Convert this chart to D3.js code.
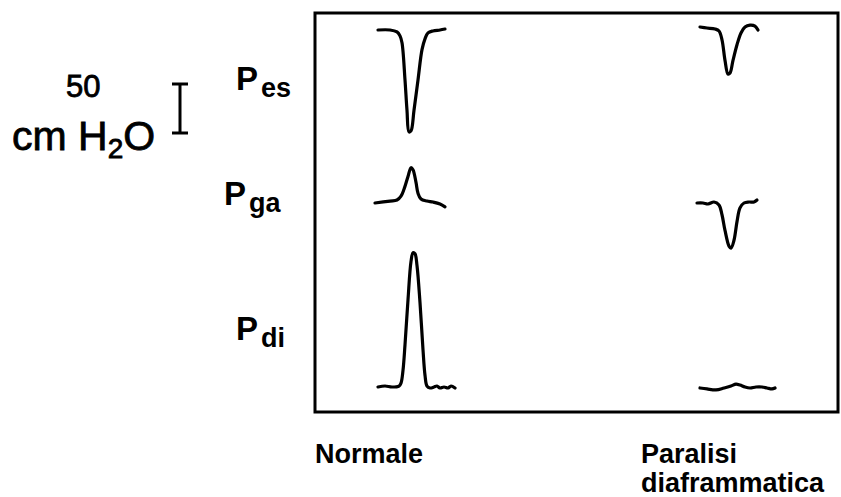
<!DOCTYPE html>
<html>
<head>
<meta charset="utf-8">
<script src="https://cdn.jsdelivr.net/npm/d3@7"></script>
<style>
	body { margin: 0; background: white; }
	text { font-family: "Liberation Sans", Arial, Helvetica, sans-serif; fill: black; }
</style>
</head>
<body>
<svg id="chart" width="841" height="497"></svg>
<script>
	// conditions (columns) and pressure channels (rows)
	const conditions = ["Normale", "Paralisi diaframmatica"];
	const channels = ["es", "ga", "di"];

	// time (a.u.) and pressure (cmH2O, relative to baseline)
	const tPesNormale = [3, 15, 22, 25, 27, 30, 32, 34, 36, 39, 43, 47, 50, 53, 58, 65, 70];
	const pPesNormale = [-1, -1, -3, -7, -14, -52, -83, -105, -104, -83, -52, -21, -10, -4, -2, -1, 0];
	const tPgaNormale = [0, 15, 22, 26, 29, 33, 36, 38, 41, 43, 46, 52, 58, 65, 70];
	const pPgaNormale = [0, 2, 3, 7, 14, 27, 36, 34, 21, 10, 4, 2, 1, -1, -4];
	const tPdiNormale = [3, 10, 17, 24, 26, 28, 30, 33, 36, 38, 40, 42, 45, 48, 50, 52, 55, 59, 62, 65, 69, 73, 76, 80];
	const pPdiNormale = [0, 1, 0, 1, 4, 17, 43, 89, 128, 137, 136, 124, 86, 38, 12, 1, -1, 0, 1, -1, 0, -1, 1, -1];

	const tPesParalisi = [3, 10, 18, 22, 25, 28, 31, 33, 36, 40, 44, 48, 53, 58, 61];
	const pPesParalisi = [2, 1, 0, -2, -11, -32, -46, -45, -32, -16, -4, 2, 4, 3, -1];
	const tPgaParalisi = [0, 6, 11, 17, 22, 25, 28, 32, 34, 37, 40, 43, 47, 52, 57, 60];
	const pPgaParalisi = [0, 0, -1, 1, -2, -12, -28, -44, -46, -38, -19, -5, 0, 1, 1, 3];
	const tPdiParalisi = [3, 10, 19, 27, 34, 39, 43, 48, 53, 59, 65, 70, 75, 78];
	const pPdiParalisi = [-1, -2, -3, -1, 1, 3, 2, 0, -1, 0, 0, -1, -2, -1];

	// calibration bar
	const scaleBarValue = 50;

	window.addEventListener("load", init);

	function init() {
		let svg = d3.select("#chart");

		// layout
		let box = {x: 315, y: 13, w: 523, h: 399};
		let colStart = [375, 697];
		let rowBase = {es: 29, ga: 203, di: 387};
		let pxPerCm = 49 / 50;

		let traces = [
			{col: 0, ch: "es", t: tPesNormale, p: pPesNormale},
			{col: 0, ch: "ga", t: tPgaNormale, p: pPgaNormale},
			{col: 0, ch: "di", t: tPdiNormale, p: pPdiNormale},
			{col: 1, ch: "es", t: tPesParalisi, p: pPesParalisi},
			{col: 1, ch: "ga", t: tPgaParalisi, p: pPgaParalisi},
			{col: 1, ch: "di", t: tPdiParalisi, p: pPdiParalisi}
		];

		// frame
		svg.append("rect")
			.attr("x", box.x)
			.attr("y", box.y)
			.attr("width", box.w)
			.attr("height", box.h)
			.attr("fill", "none")
			.attr("stroke", "black")
			.attr("stroke-width", 3);

		// draw traces
		traces.forEach(function(tr) {
			let x = d3.scaleLinear().domain([0, 80]).range([colStart[tr.col], colStart[tr.col] + 80]);
			let base = rowBase[tr.ch];
			let y = d3.scaleLinear().domain([0, 50]).range([base, base - 50 * pxPerCm]);
			let line = d3.line()
				.x(function(d) { return x(d[0]); })
				.y(function(d) { return y(d[1]); })
				.curve(d3.curveCatmullRom.alpha(0.5));
			svg.append("path")
				.datum(d3.zip(tr.t, tr.p))
				.attr("d", line)
				.attr("fill", "none")
				.attr("stroke", "black")
				.attr("stroke-width", 3.2)
				.attr("stroke-linejoin", "round")
				.attr("stroke-linecap", "round");
		});

		// channel labels P_es, P_ga, P_di
		let labelPos = {es: [236, 90], ga: [224, 205], di: [236, 340]};
		channels.forEach(function(ch) {
			let t = svg.append("text")
				.attr("x", labelPos[ch][0])
				.attr("y", labelPos[ch][1])
				.style("font-weight", "bold")
				.style("font-size", "33px");
			t.append("tspan").text("P");
			t.append("tspan")
				.attr("dx", 3)
				.attr("dy", 7)
				.style("font-size", "27px")
				.text(ch);
		});

		// calibration bar: 50 cm H2O
		let yBar = d3.scaleLinear().domain([0, scaleBarValue]).range([133, 133 - scaleBarValue * pxPerCm]);
		let bar = svg.append("g").attr("stroke", "black").attr("stroke-width", 3);
		bar.append("line").attr("x1", 180).attr("x2", 180).attr("y1", yBar(0)).attr("y2", yBar(scaleBarValue));
		bar.append("line").attr("x1", 172).attr("x2", 188).attr("y1", yBar(0)).attr("y2", yBar(0));
		bar.append("line").attr("x1", 172).attr("x2", 188).attr("y1", yBar(scaleBarValue)).attr("y2", yBar(scaleBarValue));

		// scanned-looking regular text: thin stroke to thicken it a little
		svg.append("text")
			.attr("x", 66)
			.attr("y", 97)
			.style("font-size", "31px")
			.style("stroke", "black")
			.style("stroke-width", 0.8)
			.text(scaleBarValue);

		let unit = svg.append("text")
			.attr("x", 12)
			.attr("y", 150)
			.style("font-size", "41px")
			.style("stroke", "black")
			.style("stroke-width", 0.8);
		unit.append("tspan").text("cm H");
		unit.append("tspan").attr("dy", 8).style("font-size", "28px").text("2");
		unit.append("tspan").attr("dy", -8).text("O");

		// condition labels under the frame
		let condLabels = svg.append("g").style("font-weight", "bold").style("font-size", "27px");
		condLabels.append("text").attr("x", 315).attr("y", 463).text(conditions[0]);
		let words = conditions[1].split(" ");
		condLabels.append("text").attr("x", 641).attr("y", 463).text(words[0]);
		condLabels.append("text").attr("x", 641).attr("y", 492).text(words[1]);
	}
</script>
</body>
</html>
